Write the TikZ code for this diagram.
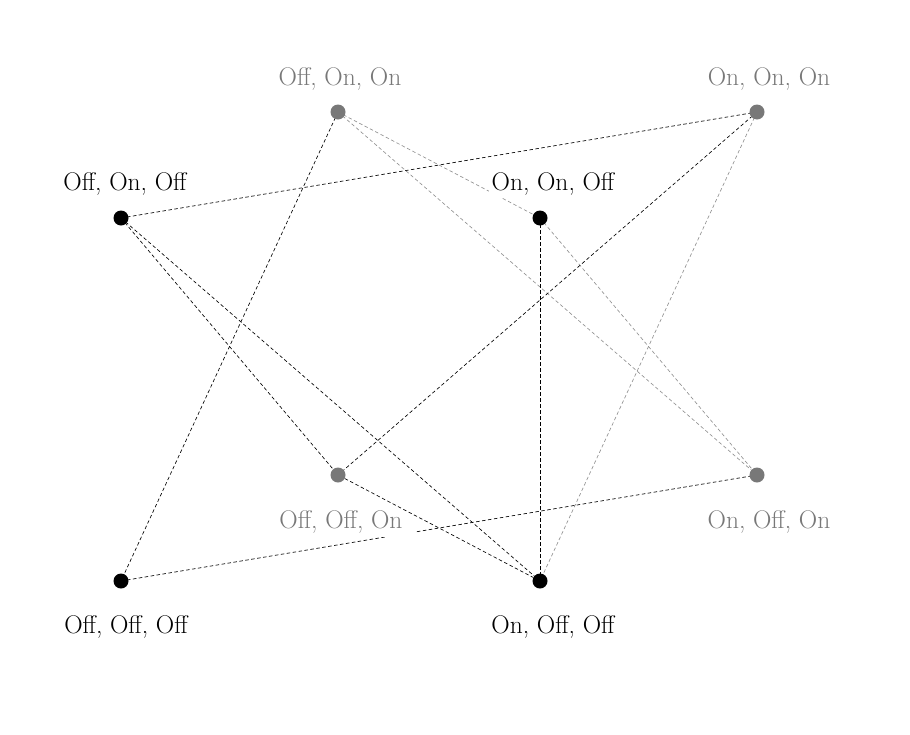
\documentclass[tikz,border=0pt]{standalone}
\usetikzlibrary{backgrounds}
\definecolor{backgray}{RGB}{120,120,120}
\definecolor{edgegray}{RGB}{145,145,145}
\tikzset{
  vblack/.style={circle,fill=black,inner sep=0pt,minimum size=15pt},
  vgray/.style={circle,fill=backgray,inner sep=0pt,minimum size=15pt},
  lbl/.style={anchor=base,font=\fontsize{25.5}{30}\selectfont,fill=white,inner sep=3pt},
  lblgray/.style={lbl,text=backgray},
  edk/.style={draw=black,line width=0.65pt,dash pattern=on 3.5pt off 2.5pt},
  edg/.style={draw=edgegray,line width=0.65pt,dash pattern=on 3.5pt off 2.5pt}
}
\begin{document}
\begin{tikzpicture}[x=1pt,y=-1pt]
\useasboundingbox (0,0) rectangle (910,734);
% vertices
\node[vblack] (ono) at (121,218) {};
\node[vblack] (nno) at (540,218) {};
\node[vblack] (ooo) at (121,581) {};
\node[vblack] (noo) at (540,581) {};
\node[vgray] (onn) at (338,112) {};
\node[vgray] (nnn) at (757,112) {};
\node[vgray] (oon) at (338,475) {};
\node[vgray] (non) at (757,475) {};
% edges
\begin{scope}[on background layer]
\draw[edk] (ono.center) -- (nnn.center);
\draw[edk] (ono.center) -- (oon.center);
\draw[edk] (ono.center) -- (noo.center);
\draw[edk] (onn.center) -- (ooo.center);
\draw[edg] (onn.center) -- (nno.center);
\draw[edg] (onn.center) -- (non.center);
\draw[edk] (nno.center) -- (noo.center);
\draw[edg] (nno.center) -- (non.center);
\draw[edk] (nnn.center) -- (oon.center);
\draw[edg] (nnn.center) -- (noo.center);
\draw[edk] (ooo.center) -- (non.center);
\end{scope}
% labels
\node[lbl] (lono) at (125,190) {Off, On, Off};
\node[lbl] (lnno) at (553,190) {On, On, Off};
\node[lblgray] (lonn) at (340,85) {Off, On, On};
\node[lblgray] (lnnn) at (769,85) {On, On, On};
\node[lblgray,inner xsep=12pt,inner ysep=4pt] (loon) at (341,528) {Off, Off, On};
\node[lblgray] (lnon) at (769,528) {On, Off, On};
\node[lbl] (looo) at (126,633) {Off, Off, Off};
\node[lbl] (lnoo) at (553,633) {On, Off, Off};
% edge drawn above the label box
\draw[edk] (oon) -- (noo);
\end{tikzpicture}
\end{document}
